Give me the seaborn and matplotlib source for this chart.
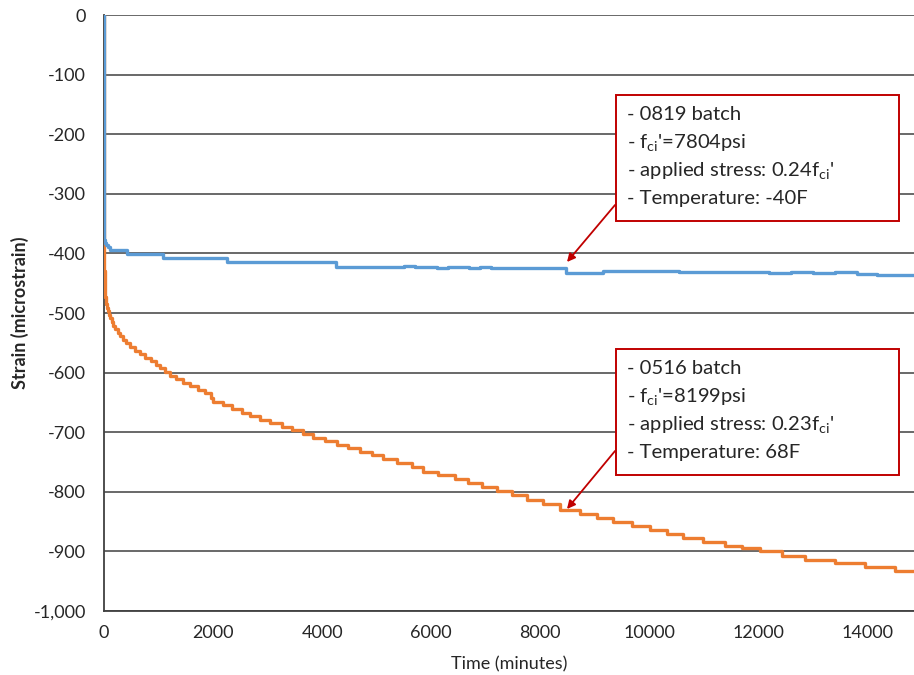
import matplotlib
matplotlib.use("Agg")
import matplotlib.pyplot as plt
import seaborn as sns
import pandas as pd
from matplotlib.ticker import FuncFormatter
from matplotlib.patches import Rectangle, FancyArrowPatch

# ---- data ----
blue_t = [0, 2, 8, 20, 45, 80, 104, 420, 1085, 2250, 4250, 5500, 5700, 5900, 6100,
          6300, 6500, 6700, 6900, 7100, 7400, 8470, 9150, 10550, 12200, 12600,
          13000, 13400, 13800, 14180, 14850]
blue_s = [0, -370, -378, -382, -386, -390, -394, -401, -408, -415, -422, -421, -423,
          -422, -424, -423, -422, -424, -422, -424, -425, -433, -429, -431, -433,
          -432, -433, -432, -434, -437, -437]

orange_t = [0, 1, 4, 10, 14, 20, 28, 37, 50, 68, 90, 115, 140, 170, 210, 250, 300,
            350, 410, 480, 560, 660, 760, 860, 950, 1030, 1110, 1210, 1320, 1440,
            1580, 1720, 1850, 1960, 2004, 2187, 2340, 2523, 2675, 2859, 3042, 3257,
            3440, 3654, 3837, 4051, 4265, 4479, 4693, 4907, 5120, 5365, 5640, 5854,
            6129, 6435, 6679, 6924, 7199, 7474, 7749, 8054, 8360, 8725, 9030, 9336,
            9673, 10009, 10314, 10620, 10987, 11383, 11689, 12025, 12422, 12850,
            13400, 13950, 14500, 14850]
orange_s = [0, -380, -430, -461, -467, -473, -479, -485, -491, -497, -503, -509, -515,
            -521, -527, -533, -539, -545, -551, -557, -563, -569, -575, -581, -587,
            -593, -599, -605, -611, -617, -623, -629, -635, -643, -649, -655, -661,
            -667, -673, -679, -685, -691, -697, -703, -709, -715, -721, -727, -733,
            -739, -745, -752, -759, -766, -772, -779, -786, -792, -799, -806, -813,
            -820, -830, -837, -844, -851, -857, -864, -871, -877, -884, -891, -895,
            -900, -908, -914, -920, -927, -933, -933]

y_ticks = [0, -100, -200, -300, -400, -500, -600, -700, -800, -900, -1000]
x_ticks = [0, 2000, 4000, 6000, 8000, 10000, 12000, 14000]

box1_lines = ["- 0819 batch", "- f$_{ci}$'=7804psi", "- applied stress: 0.24f$_{ci}$'",
              "- Temperature: -40F"]
box2_lines = ["- 0516 batch", "- f$_{ci}$'=8199psi", "- applied stress: 0.23f$_{ci}$'",
              "- Temperature: 68F"]

# ---- style ----
sns.set_theme(style="white")
plt.rcParams['font.family'] = ['Lato', 'DejaVu Sans']
plt.rcParams['mathtext.default'] = 'regular'

W, H = 914, 675
fig = plt.figure(figsize=(W / 100, H / 100), dpi=100)

def fx(px):
    return px / W

def fy(py):
    return 1 - py / H

ax = fig.add_axes([fx(104), fy(611), fx(914) - fx(104), fy(15) - fy(611)])

df_o = pd.DataFrame({"t": orange_t, "s": orange_s})
df_b = pd.DataFrame({"t": blue_t, "s": blue_s})
sns.lineplot(data=df_o, x="t", y="s", ax=ax, color="#ED7D31", lw=2.4,
             drawstyle="steps-post", estimator=None, sort=False, zorder=3)
sns.lineplot(data=df_b, x="t", y="s", ax=ax, color="#5B9BD5", lw=2.4,
             drawstyle="steps-post", estimator=None, sort=False, zorder=4)

ax.set_xlim(0, 14850)
ax.set_ylim(-1000, 0)
ax.set_xticks(x_ticks)
ax.set_yticks(y_ticks)
ax.yaxis.set_major_formatter(FuncFormatter(lambda v, p: f"{int(round(v)):,}"))
ax.grid(axis="y", color="#404040", lw=1.1)
ax.grid(axis="x", visible=False)
ax.set_axisbelow(True)
for sp in ["top", "right"]:
    ax.spines[sp].set_visible(False)
for sp in ["left", "bottom"]:
    ax.spines[sp].set_color("#404040")
    ax.spines[sp].set_linewidth(1.3)
ax.tick_params(axis="both", length=0, labelsize=13, colors="#262626")
ax.tick_params(axis="y", pad=13)
ax.tick_params(axis="x", pad=10)
ax.set_xlabel("Time (minutes)", fontsize=13, color="#262626", labelpad=11)
ax.set_ylabel("Strain (microstrain)", fontsize=13, fontweight="bold",
              color="#262626", labelpad=3)

# ---- annotation boxes ----
red = "#C00000"
def draw_box(top, lines, tip_px, start_px):
    left, right, bottom = 616, 899, top + 126
    fig.patches.append(Rectangle((fx(left), fy(bottom)), fx(right) - fx(left),
                                 fy(top) - fy(bottom), transform=fig.transFigure,
                                 facecolor="white", edgecolor=red, lw=1.4, zorder=5))
    for i, line in enumerate(lines):
        fig.text(fx(627), fy(top + 19 + 28.3 * i), line, fontsize=14.6,
                 va="center", ha="left", color="#262626", zorder=6)
    fig.add_artist(FancyArrowPatch(
        (fx(start_px[0]), fy(start_px[1])), (fx(tip_px[0]), fy(tip_px[1])),
        transform=fig.transFigure, arrowstyle="-|>", mutation_scale=12,
        color=red, lw=1.3, shrinkA=0, shrinkB=0, zorder=6))

draw_box(95, box1_lines, (567, 262), (615, 205))
draw_box(349, box2_lines, (567, 509), (615, 451))

fig.savefig("out.png", dpi=100)
